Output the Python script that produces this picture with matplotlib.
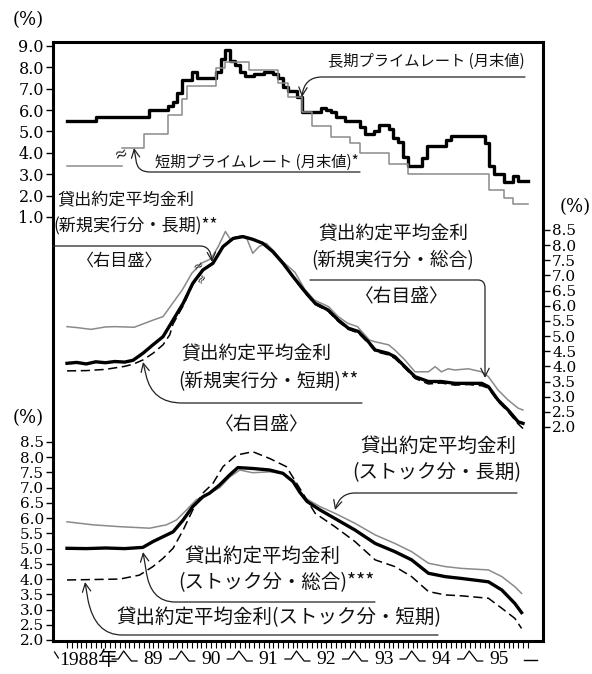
import numpy as np
import matplotlib
matplotlib.use('Agg')
import matplotlib.pyplot as plt
import matplotlib.transforms as mtransforms
from matplotlib.path import Path
from matplotlib.patches import FancyArrowPatch

plt.rcParams['font.family'] = ['Liberation Serif', 'Noto Sans CJK JP']

# months counted from Jan 1988 (0) to Dec 1995 (95)
# prime rates, month-end values (step series)
long_prime_m = [0, 6, 17, 21, 22, 23, 24, 26, 27, 31, 32, 33, 34, 35, 36, 37, 39, 41, 43, 44,
                45, 46, 48, 49, 53, 54, 55, 56, 58, 61, 62, 64, 65, 67, 68, 69, 70, 71, 74, 75,
                79, 80, 87, 88, 89, 91, 93, 94, 96]
long_prime_v = [5.5, 5.7, 6.0, 6.2, 6.4, 6.8, 7.4, 7.8, 7.5, 7.8, 8.4, 8.8, 8.3, 8.1, 7.8, 7.6, 7.7, 7.8, 7.7, 7.5,
                7.1, 6.9, 6.6, 5.9, 6.1, 6.0, 5.9, 5.7, 5.5, 5.2, 4.9, 5.0, 5.3, 5.1, 4.7, 4.5, 3.8, 3.4, 3.75, 4.3,
                4.6, 4.8, 4.45, 3.4, 3.0, 2.65, 2.9, 2.7, 2.7]
short_prime_old_m = [0, 11.5]
short_prime_old_v = [3.375, 3.375]
short_prime_m = [11.5, 16, 21, 24, 25, 31, 33, 38, 44, 46, 49, 51, 55, 59, 61, 67, 71, 88, 91, 93, 96]
short_prime_v = [4.25, 4.875, 5.75, 6.5, 7.125, 7.95, 8.25, 7.875, 7.25, 6.625, 5.9, 5.25, 4.75, 4.45,
                 4.0, 3.5, 3.0, 2.25, 1.9, 1.6, 1.6]

# new loans (right scale)
new_total_m = [0, 2, 4, 6, 8, 10, 12, 13.75, 15.8, 17.9, 20, 22.1, 24.2, 26.2, 28.3, 30.4,
               32.5, 34.6, 36.7, 38.7, 40.8, 42.9, 45, 47.1, 49.6, 51.7, 54.4, 56.5, 58.6, 60.7, 62.8, 64.2,
               66.9, 68.3, 70.4, 72.5, 75.3, 78, 80.8, 83.6, 86.4, 87.8, 89.8, 91.9, 94, 95]
new_total_v = [4.10, 4.13, 4.08, 4.15, 4.12, 4.16, 4.14, 4.20, 4.43, 4.71, 4.98, 5.53, 6.08, 6.74, 7.18, 7.40,
               7.95, 8.22, 8.28, 8.19, 8.06, 7.78, 7.40, 6.96, 6.46, 6.08, 5.86, 5.53, 5.26, 5.15, 4.81, 4.54,
               4.43, 4.32, 3.99, 3.66, 3.50, 3.50, 3.44, 3.44, 3.44, 3.33, 2.89, 2.56, 2.17, 2.12]
new_long_m = [0, 2, 5, 8, 10, 14, 18, 20, 22, 24, 26, 28, 30, 31.5, 33, 34.2, 36, 37.5, 38.7, 40,
              41.5, 43, 45, 47.5, 49.5, 51.5, 54.5, 56.5, 58.5, 60.5, 63, 64.2, 67, 68.3, 70.4, 72.5,
              75.3, 76.7, 78, 79.4, 80.8, 83.6, 86.4, 87.8, 89.8, 91.9, 94, 95]
new_long_v = [5.31, 5.28, 5.22, 5.30, 5.31, 5.29, 5.53, 5.64, 6.08, 6.52, 7.07, 7.40, 7.55, 7.95, 8.45, 8.15,
              8.30, 8.20, 7.73, 7.95, 8.06, 7.82, 7.45, 7.10, 6.55, 6.19, 5.97, 5.64, 5.42, 5.31, 4.87, 4.81,
              4.71, 4.54, 4.21, 3.82, 3.82, 3.99, 3.82, 3.92, 3.88, 3.92, 3.82, 3.66, 3.22, 2.89, 2.62, 2.56]
new_short_m = [0, 4, 8, 9.6, 12, 13.75, 15.8, 17.9, 20, 21.4, 22.1, 24.2, 26.2, 28.3, 30.4, 32.5,
               34.6, 36.7, 38.7, 40.8, 42.9, 45, 47.1, 49.6, 51.7, 54.4, 56.5, 58.6, 60.7, 62.8, 64.2, 66.9,
               68.3, 70.4, 72.5, 75.3, 78, 80.8, 83.6, 86.4, 87.8, 89.8, 91.9, 94, 95]
new_short_v = [3.85, 3.86, 3.90, 3.94, 4.00, 4.07, 4.21, 4.43, 4.71, 5.04, 5.40, 6.00, 6.70, 7.15, 7.40, 7.95,
               8.24, 8.30, 8.20, 8.05, 7.76, 7.38, 6.93, 6.42, 6.04, 5.82, 5.48, 5.22, 5.10, 4.76, 4.49, 4.38,
               4.26, 3.94, 3.60, 3.42, 3.45, 3.38, 3.40, 3.36, 3.28, 2.84, 2.50, 2.10, 1.95]

# stock (left lower scale)
stock_total_m = [0, 4, 8, 12, 15.8, 17.9, 20, 22.1, 24.2, 26.2, 28.3, 29.7, 31.8, 33.9, 35.6, 38.7,
                 42.2, 45, 47.1, 48.5, 50, 52.7, 55.8, 60, 64.2, 68.3, 71.8, 75.3, 78.8, 82.2, 87.8, 90.6,
                 93.3, 94.7]
stock_total_v = [5.01, 5.00, 5.02, 5.00, 5.04, 5.23, 5.39, 5.55, 5.94, 6.38, 6.70, 6.82, 7.09, 7.42, 7.66, 7.63,
                 7.58, 7.47, 7.20, 6.85, 6.55, 6.27, 5.99, 5.61, 5.17, 4.90, 4.63, 4.19, 4.08, 4.02, 3.91, 3.64,
                 3.20, 2.90]
stock_long_m = [0, 5.4, 11, 17.2, 20.7, 22.8, 24.9, 26.9, 29.7, 31.8, 33.9, 36, 38.7, 42.2, 45, 47.1,
                49.6, 52.7, 55.8, 60, 64.2, 68.3, 71.8, 75.3, 78.8, 82.2, 87.8, 90.6, 93.3, 94.7]
stock_long_v = [5.88, 5.78, 5.72, 5.67, 5.78, 5.94, 6.27, 6.60, 6.82, 7.00, 7.35, 7.58, 7.49, 7.52, 7.47, 7.20,
                6.66, 6.38, 6.16, 5.83, 5.45, 5.17, 4.90, 4.52, 4.41, 4.35, 4.30, 4.08, 3.75, 3.53]
stock_short_m = [0, 11, 15.1, 17.9, 20, 22.1, 24.2, 26.2, 28.3, 30.4, 32.5, 35.3, 38.7, 42.2, 45.7, 48.8,
                 51.7, 55.8, 60, 64.2, 68.3, 71.8, 75.3, 78.8, 82.2, 87.8, 90.6, 93.3, 94.7]
stock_short_v = [3.97, 4.00, 4.13, 4.41, 4.68, 5.01, 5.61, 6.27, 6.82, 7.14, 7.69, 8.07, 8.18, 7.96, 7.69, 6.90,
                 6.16, 5.72, 5.23, 4.63, 4.41, 4.08, 3.59, 3.48, 3.45, 3.37, 3.04, 2.71, 2.38]

year_labels = ['1988年', '89', '90', '91', '92', '93', '94', '95']
top_ticks = [1, 2, 3, 4, 5, 6, 7, 8, 9]
half_ticks = [2.0, 2.5, 3.0, 3.5, 4.0, 4.5, 5.0, 5.5, 6.0, 6.5, 7.0, 7.5, 8.0, 8.5]

W, H = 592, 674
GRAY = '#8a8a8a'
JP = ['Noto Sans CJK JP']
NUM = ['DejaVu Serif']

fig = plt.figure(figsize=(W / 100, H / 100), dpi=100)
rect = [53 / W, (H - 641) / H, 490 / W, 599 / H]

ax = fig.add_axes(rect)                  # stock, left scale (lower)
ax_mid = fig.add_axes(rect, sharex=ax)   # new loans, right scale
ax_top = fig.add_axes(rect, sharex=ax)   # prime rates, left scale (upper)

ax.set_xlim(-2.92, 99.17)
ax.set_ylim(1.967, 21.63)
ax_mid.set_ylim(-5.06, 14.70)
ax_top.set_ylim(-18.84, 9.187)

for a in (ax_mid, ax_top):
    a.patch.set_visible(False)
    for s in a.spines.values():
        s.set_visible(False)
    a.tick_params(axis='x', bottom=False, labelbottom=False)
for s in ax.spines.values():
    s.set_linewidth(2.2)

ax.set_xticks(np.arange(0, 97))
ax.tick_params(axis='x', length=5, width=0.8, direction='out', labelbottom=False)

ax.set_yticks(half_ticks)
ax.set_yticklabels([f'{v:.1f}' for v in half_ticks], family=NUM, fontsize=11)
ax_top.set_yticks(top_ticks)
ax_top.set_yticklabels([f'{v:.1f}' for v in top_ticks], family=NUM, fontsize=11.5)
ax_mid.yaxis.tick_right()
ax_mid.set_yticks(half_ticks)
ax_mid.set_yticklabels([f'{v:.1f}' for v in half_ticks], family=NUM, fontsize=11)
for a in (ax, ax_mid, ax_top):
    a.tick_params(axis='y', length=5, width=1, direction='out', pad=1.5)

# prime rates
ax_top.step(long_prime_m, long_prime_v, where='post', color='black', lw=2.4)
ax_top.step(short_prime_old_m, short_prime_old_v, where='post', color=GRAY, lw=1.1)
ax_top.step(short_prime_m, short_prime_v, where='post', color=GRAY, lw=1.1)

# new loans
ax_mid.plot(new_long_m, new_long_v, color=GRAY, lw=1.1)
ax_mid.plot(new_short_m, new_short_v, color='black', lw=1.1, dashes=(6, 3))
ax_mid.plot(new_total_m, new_total_v, color='black', lw=2.4)

# stock
ax.plot(stock_long_m, stock_long_v, color=GRAY, lw=1.1)
ax.plot(stock_short_m, stock_short_v, color='black', lw=1.1, dashes=(6, 3))
ax.plot(stock_total_m, stock_total_v, color='black', lw=2.4)

# overlay in pixel coordinates for labels and leaders
ann = fig.add_axes([0, 0, 1, 1])
ann.set_xlim(0, W)
ann.set_ylim(H, 0)
ann.axis('off')

M, L, C = Path.MOVETO, Path.LINETO, Path.CURVE3


def leader(verts, codes):
    p = FancyArrowPatch(path=Path(verts, codes), arrowstyle='->,head_length=0.6,head_width=0.3',
                        mutation_scale=10, lw=0.9, color='#222222')
    ann.add_patch(p)


def label(x, y, s, size=13.5, **kw):
    ann.text(x, y, s, fontsize=size, ha='center', va='center', family=JP, color='#111111', **kw)


label(426, 61, '長期プライムレート (月末値)', 11)
leader([(525, 77), (322, 77), (304, 77), (302, 97)], [M, L, C, C])

label(257, 162, '短期プライムレート (月末値)*', 11)
leader([(360, 172), (150, 172), (137, 172), (136, 160), (134, 148)], [M, L, C, C, L])
ann.text(121, 155, '≈', fontsize=10, ha='center', va='center', family=JP, rotation=20)

label(126, 199, '貸出約定平均金利', 12.3)
label(136, 225, '(新規実行分・長期)**', 12.3)
label(120, 261, '〈右目盛〉', 12.3)
leader([(53, 246), (200, 246), (211, 246), (212, 262)], [M, L, C, C])
ann.text(199, 266, '≈', fontsize=8, ha='center', va='center', family=JP, rotation=30)
ann.text(203, 279, '≈', fontsize=8, ha='center', va='center', family=JP, rotation=60)

label(393, 233, '貸出約定平均金利')
label(393, 261, '(新規実行分・総合)')
label(402, 296, '〈右目盛〉')
leader([(310, 280), (478, 280), (485, 280), (485, 288), (485, 378)], [M, L, C, C, L])

label(256, 353, '貸出約定平均金利')
label(268, 382, '(新規実行分・短期)**')
label(262, 424, '〈右目盛〉')
leader([(362, 403), (182, 403), (152, 403), (146, 375), (143, 362)], [M, L, C, C, L])

label(438, 446, '貸出約定平均金利', 14)
label(437, 473, '(ストック分・長期)', 14)
leader([(517, 493), (355, 493), (340, 493), (335, 510)], [M, L, C, C])

label(262, 556, '貸出約定平均金利', 14)
label(276, 583, '(ストック分・総合)***', 14)
leader([(375, 602), (175, 602), (150, 602), (146, 570), (143, 552)], [M, L, C, C, L])

label(279, 618, '貸出約定平均金利(ストック分・短期)', 14)
leader([(438, 635), (122, 635), (95, 635), (88, 600), (85, 582)], [M, L, C, C, L])

for x, y in [(28, 20), (575, 207), (28, 418)]:
    ann.text(x, y, '(%)', fontsize=13, ha='center', va='center', family=NUM)

# year labels and separators below the axis
tr = mtransforms.blended_transform_factory(ax.transData, ann.transData)
year_pos = [4.5] + [6 + 12 * k for k in range(1, 8)]
for xm, s in zip(year_pos, year_labels):
    ann.text(xm, 660, s, fontsize=14, ha='center', va='center', transform=tr,
             family=['Liberation Serif', 'Noto Sans CJK JP'])
for k in range(1, 8):
    xm = 12 * k
    ann.plot([xm - 2.6, xm - 1.3, xm - 0.2, xm + 1.4, xm + 2.6],
             [659, 659, 651, 661, 661], color='black', lw=0.9, transform=tr, clip_on=False)
ann.plot([-2.6, -1.8], [652, 658], color='black', lw=0.9, transform=tr, clip_on=False)
ann.plot([95.3, 98.0], [660, 660], color='black', lw=1.0, transform=tr, clip_on=False)

fig.savefig('out.png', dpi=100)
